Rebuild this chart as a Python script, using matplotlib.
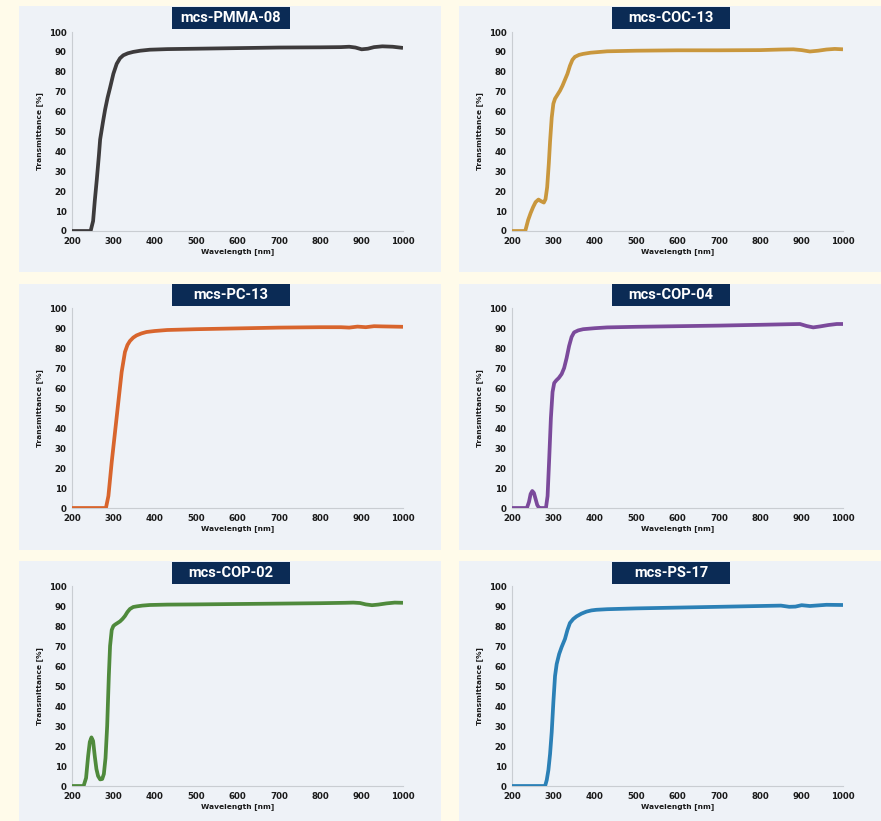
import matplotlib.pyplot as plt
from matplotlib.patches import Rectangle

# ---- data ----
pmma_nm = [200, 245, 251, 255, 260, 265, 268, 275, 280, 286, 292, 300, 308, 316, 324, 335, 348, 365, 388, 430,
           500, 600, 700, 800, 850, 870, 885, 900, 915, 930, 950, 975, 1000]
pmma_t = [0, 0, 5, 15, 26, 38, 46, 55, 61, 67, 72, 79, 84, 86.8, 88.3, 89.3, 90, 90.6, 91.1, 91.4,
          91.6, 91.9, 92.2, 92.3, 92.4, 92.6, 92.2, 91.3, 91.6, 92.4, 92.8, 92.6, 92]

coc_nm = [200, 232, 239, 245, 251, 257, 264, 270, 277, 281, 285, 289, 292, 296, 300, 304, 310, 316, 322,
          328, 334, 340, 346, 352, 362, 372, 390, 430, 500, 600, 700, 800, 850, 880, 900, 920, 940, 960, 980, 1000]
coc_t = [0, 0, 5.5, 9, 12, 14.5, 15.8, 15, 14.3, 16, 22, 34, 45, 57, 64, 66.5, 68.5, 70.5, 73,
         76, 79, 83, 86, 87.5, 88.5, 89, 89.6, 90.3, 90.6, 90.8, 90.8, 90.9, 91.2, 91.3, 90.9, 90.2, 90.6, 91.2, 91.5, 91.3]

pc_nm = [200, 282, 288, 296, 304, 312, 320, 328, 334, 340, 348, 356, 368, 380, 400, 430, 500, 600,
         700, 800, 850, 870, 890, 910, 930, 950, 1000]
pc_t = [0, 0, 6, 23, 38, 53, 68, 78, 81.5, 83.5, 85.2, 86.3, 87.3, 88, 88.5, 89, 89.4, 89.8,
        90.2, 90.4, 90.4, 90.2, 90.7, 90.4, 90.9, 90.8, 90.6]

cop04_nm = [200, 236, 241, 245, 249, 253, 257, 261, 265, 270, 282, 286, 290, 294, 298, 302, 307, 313,
            320, 326, 332, 338, 344, 350, 360, 372, 400, 430, 500, 600, 700, 800, 870, 896, 912, 928, 945, 965, 985, 1000]
cop04_t = [0, 0, 3, 7, 8.5, 7.5, 4.5, 1.5, 0.2, 0, 0, 6, 25, 45, 58, 62.5, 63.8, 65,
           67, 70, 75, 81, 85.5, 87.8, 88.8, 89.4, 89.9, 90.3, 90.6, 90.9, 91.2, 91.6, 91.9, 92, 91, 90.3, 90.8, 91.5, 92, 92]

cop02_nm = [200, 228, 234, 239, 243, 247, 251, 255, 259, 263, 268, 273, 277, 281, 285, 289, 292, 296,
            300, 304, 310, 316, 322, 328, 334, 340, 348, 356, 370, 388, 430, 500, 600, 700, 800, 860,
            880, 896, 910, 925, 940, 960, 980, 1000]
cop02_t = [0, 0, 4, 15, 22, 24.3, 22.5, 15, 8.5, 5, 3.3, 3.5, 6, 14, 30, 55, 70, 78,
           80, 80.7, 81.5, 82.3, 83.5, 85, 87, 88.5, 89.5, 89.8, 90.2, 90.5, 90.7, 90.8, 91, 91.2, 91.4, 91.6,
           91.7, 91.5, 90.8, 90.4, 90.7, 91.3, 91.7, 91.6]

ps_nm = [200, 280, 284, 288, 292, 296, 300, 304, 308, 314, 320, 328, 334, 340, 348, 356, 368, 380, 392,
         404, 430, 500, 600, 700, 800, 850, 870, 885, 900, 920, 940, 960, 1000]
ps_t = [0, 0, 3, 8, 16, 27, 42, 55, 61, 66, 69.5, 73.5, 78, 81.5, 83.5, 84.8, 86.2, 87.2, 87.8,
        88.1, 88.4, 88.8, 89.2, 89.6, 90, 90.2, 89.6, 89.7, 90.4, 90, 90.3, 90.6, 90.5]

names = ['mcs-PMMA-08', 'mcs-COC-13', 'mcs-PC-13', 'mcs-COP-04', 'mcs-COP-02', 'mcs-PS-17']
series = [(pmma_nm, pmma_t), (coc_nm, coc_t), (pc_nm, pc_t),
          (cop04_nm, cop04_t), (cop02_nm, cop02_t), (ps_nm, ps_t)]
colors = ['#3d3b3c', '#c9973d', '#d8652d', '#7b4a9b', '#4f8a3c', '#2b80b6']

x_ticks = [200, 300, 400, 500, 600, 700, 800, 900, 1000]
y_ticks = [0, 10, 20, 30, 40, 50, 60, 70, 80, 90, 100]

# ---- layout (pixel coords of the 881x821 canvas) ----
W, H = 881, 821
fig = plt.figure(figsize=(W / 100, H / 100), dpi=100)
fig.patch.set_facecolor('#fffbea')

panel_x = [(19, 441), (459, 881)]
panel_y = [(6, 272), (284, 550), (561, 821)]
axes_x = [(72, 403), (512, 843)]
axes_y = [(32, 231), (308, 508), (586, 786)]
title_x = [(172, 290), (612, 730)]
title_y = [(7, 29), (284, 306), (562, 584)]


def px_rect(x0, x1, y0, y1):
    # convert pixel box (top-left origin) to figure fraction
    return [x0 / W, 1 - y1 / H, (x1 - x0) / W, (y1 - y0) / H]


for i, (name, (wl, tr), col) in enumerate(zip(names, series, colors)):
    r, c = divmod(i, 2)

    # panel background (behind the axes)
    l, b, w, h = px_rect(*panel_x[c], *panel_y[r])
    fig.patches.append(Rectangle((l, b), w, h, transform=fig.transFigure,
                                 facecolor='#eef2f7', edgecolor='none', zorder=-5))

    ax = fig.add_axes(px_rect(*axes_x[c], *axes_y[r]))
    ax.set_zorder(1)
    ax.set_facecolor('none')
    ax.plot(wl, tr, color=col, lw=2.7, solid_joinstyle='round', solid_capstyle='butt', zorder=3)
    ax.set_xlim(200, 1000)
    ax.set_ylim(0, 100)
    ax.set_xticks(x_ticks)
    ax.set_yticks(y_ticks)
    ax.tick_params(length=0, labelsize=6.2, colors='#1a1a1a')
    ax.tick_params(axis='x', pad=4.5)
    ax.tick_params(axis='y', pad=4)
    for lab in ax.get_xticklabels() + ax.get_yticklabels():
        lab.set_fontweight('bold')
    for s in ['top', 'right']:
        ax.spines[s].set_visible(False)
    for s in ['left', 'bottom']:
        ax.spines[s].set_color('#c9cdd2')
        ax.spines[s].set_linewidth(0.8)
    ax.set_xlabel('Wavelength [nm]', fontsize=5.4, fontweight='bold', labelpad=1.5, color='#1a1a1a')
    ax.set_ylabel('Transmittance [%]', fontsize=5.4, fontweight='bold', labelpad=4, color='#1a1a1a')

    # title box
    l, b, w, h = px_rect(*title_x[c], *title_y[r])
    fig.patches.append(Rectangle((l, b), w, h, transform=fig.transFigure,
                                 facecolor='#0b2b55', edgecolor='none', zorder=5))
    fig.text(l + w / 2, b + h / 2, name, ha='center', va='center', color='white',
             fontsize=10.5, fontweight='bold', family='Roboto', zorder=6)

fig.savefig('out.png', dpi=100, facecolor=fig.get_facecolor())
